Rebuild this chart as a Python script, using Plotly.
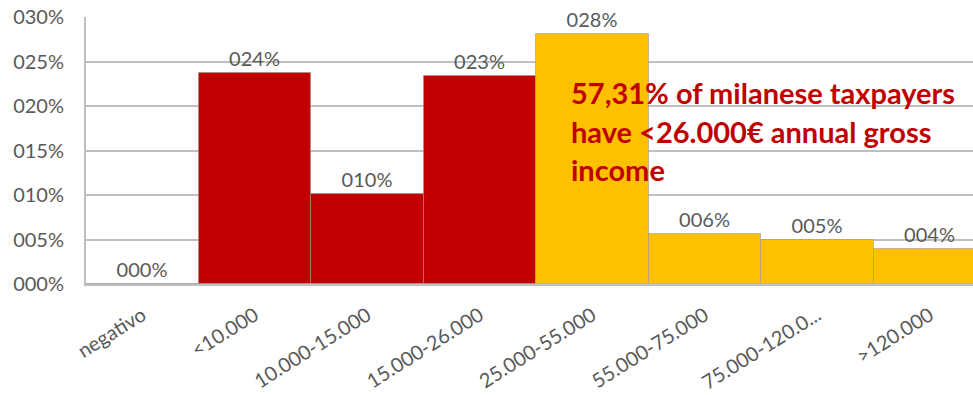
import plotly.graph_objects as go

categories = ["negativo", "<10.000", "10.000-15.000", "15.000-26.000",
              "25.000-55.000", "55.000-75.000", "75.000-120.0...", ">120.000"]
shares = [0.0, 0.2374, 0.1010, 0.2340, 0.2810, 0.0558, 0.0494, 0.0390]
group = ["low", "low", "low", "low", "high", "high", "high", "high"]
y_tickvals = [0, 0.05, 0.10, 0.15, 0.20, 0.25, 0.30]
y_ticktext = ["000%", "005%", "010%", "015%", "020%", "025%", "030%"]
note_lines = ["57,31% of milanese taxpayers", "have <26.000€ annual gross", "income"]

RED = "#C00000"
GOLD = "#FFC000"
GREY = "#595959"
FONT = "Lato, 'Open Sans', sans-serif"

colors = [RED if g == "low" else GOLD for g in group]
labels = [f"{round(v * 100):03d}%" for v in shares]

fig = go.Figure()
fig.add_trace(go.Bar(
    x=categories, y=shares,
    marker=dict(color=colors, line=dict(color="rgba(150,150,150,0.55)", width=1)),
    text=labels, textposition="outside", cliponaxis=False,
    textfont=dict(family=FONT, size=20, color=GREY),
    hoverinfo="skip",
))

fig.update_layout(
    width=973, height=395,
    margin=dict(l=86, r=0, t=17, b=111),
    paper_bgcolor="white", plot_bgcolor="white",
    bargap=0, showlegend=False,
    font=dict(family=FONT, size=20, color=GREY),
    xaxis=dict(
        range=[-0.5, 7.384], tickangle=-32, showgrid=False,
        showline=True, linecolor="#BFBFBF", linewidth=2,
        tickfont=dict(family=FONT, size=20, color=GREY),
        ticks="", ticklabelstandoff=10, fixedrange=True,
    ),
    yaxis=dict(
        range=[0, 0.30], tickvals=y_tickvals, ticktext=y_ticktext,
        showgrid=True, gridcolor="#BFBFBF", gridwidth=1.5,
        showline=True, linecolor="#BFBFBF", linewidth=2,
        zeroline=False, ticks="", ticklabelstandoff=16,
        tickfont=dict(family=FONT, size=20, color=GREY),
    ),
)

line_y = [0.717, 0.573, 0.428]
for txt, yy in zip(note_lines, line_y):
    fig.add_annotation(
        x=0.545, y=yy, xref="paper", yref="paper",
        xanchor="left", yanchor="middle", showarrow=False,
        text=f"<b>{txt}</b>",
        font=dict(family=FONT, size=29, color=RED),
    )

fig.write_html("out.html")
